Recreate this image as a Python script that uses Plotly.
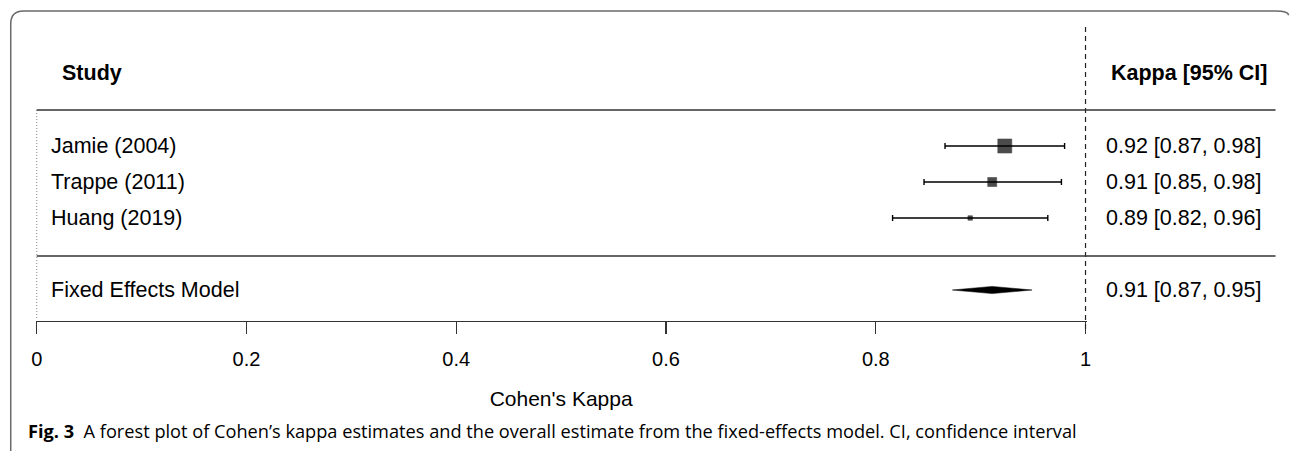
import plotly.graph_objects as go

# ---------------- data ----------------
studies = ["Jamie (2004)", "Trappe (2011)", "Huang (2019)"]
kappa = [0.923, 0.911, 0.890]
ci_low = [0.866, 0.846, 0.816]
ci_high = [0.980, 0.977, 0.964]

model_label = "Fixed Effects Model"
model_kappa = 0.911
model_low = 0.873
model_high = 0.949

x_ticks = [0, 0.2, 0.4, 0.6, 0.8, 1]
x_tick_text = ["0", "0.2", "0.4", "0.6", "0.8", "1"]

# ---------------- layout constants ----------------
W, H = 1290, 451
PX0, PX1 = 36, 1085            # target pixel positions of kappa 0 and 1
ROW0_PX, ROW_PX = 146, 36      # pixel y of first row, row spacing
PAD = 0.001                    # tiny range padding so edge lines are not clipped
box_sizes = [14, 9, 4.5]
FONT = "Liberation Sans, Arial, sans-serif"
FS = 21.5
# horizontal calibration of the capture (observed offset / scale)
CAL_OFF, CAL_S = 4.27, 0.9924


def cx(px):
    """target pixel x -> layout pixel x"""
    return (px - CAL_OFF) / CAL_S


def px_to_paper_x(px):
    return cx(px) / W


def px_to_paper_y(py):
    return 1 - py / H


def px_to_row(py):
    return (py - ROW0_PX) / ROW_PX


L0, L1 = cx(PX0), cx(PX1)
upp = (L1 - L0)
dom0 = (L0 - PAD * upp) / W
dom1 = (L1 + PAD * upp) / W

rows = list(range(len(studies)))
model_row = len(studies) + 1

fig = go.Figure()

# study estimates with CIs
fig.add_trace(go.Scatter(
    x=kappa, y=rows, mode="markers",
    marker=dict(symbol="square", size=box_sizes, color="black",
                line=dict(width=0.6, color="black")),
    error_x=dict(type="data", symmetric=False,
                 array=[h - k for h, k in zip(ci_high, kappa)],
                 arrayminus=[k - l for k, l in zip(kappa, ci_low)],
                 color="black", thickness=1.4, width=3),
    showlegend=False, hoverinfo="skip", cliponaxis=False,
))

# summary diamond
dh = 3.6 / ROW_PX
fig.add_trace(go.Scatter(
    x=[model_low, model_kappa, model_high, model_kappa, model_low],
    y=[model_row, model_row - dh, model_row, model_row + dh, model_row],
    mode="lines", fill="toself", fillcolor="black",
    line=dict(color="black", width=0.5),
    showlegend=False, hoverinfo="skip",
))

shapes = []
# reference dashed line at kappa = 1
shapes.append(dict(type="line", xref="x", yref="y", x0=1, x1=1,
                   y0=px_to_row(27), y1=px_to_row(333),
                   line=dict(color="#222", width=1.3, dash="5px,4px")))
# dotted line at kappa = 0
shapes.append(dict(type="line", xref="x", yref="y", x0=0, x1=0,
                   y0=px_to_row(110), y1=px_to_row(319),
                   line=dict(color="#888", width=1, dash="1px,2px")))
# horizontal separators
for r in (-1, len(studies)):
    yy = px_to_paper_y(ROW0_PX + r * ROW_PX + (2 if r > 0 else 0))
    shapes.append(dict(type="line", xref="paper", yref="paper",
                       x0=px_to_paper_x(PX0), x1=px_to_paper_x(1275),
                       y0=yy, y1=yy,
                       line=dict(color="#333", width=1.3)))
# rounded frame
x0p, x1p = px_to_paper_x(10), px_to_paper_x(1288)
yt = px_to_paper_y(11)
yb = px_to_paper_y(452)
rx, ry = 13 / W, 13 / H
frame = (f"M {x0p} {yb} L {x0p} {yt - ry} Q {x0p} {yt} {x0p + rx} {yt} "
         f"L {x1p - rx} {yt} Q {x1p} {yt} {x1p} {yt - ry / 3}")
shapes.append(dict(type="path", xref="paper", yref="paper", path=frame,
                   line=dict(color="#6a6a6a", width=1.5)))

annotations = []
# headers
annotations.append(dict(text="<b>Study</b>", xref="paper", yref="y",
                        x=px_to_paper_x(59), y=px_to_row(73), xanchor="left", yanchor="middle",
                        showarrow=False, font=dict(family=FONT, size=FS, color="black")))
annotations.append(dict(text="<b>Kappa [95% CI]</b>", xref="paper", yref="y",
                        x=px_to_paper_x(1269), y=px_to_row(73), xanchor="right", yanchor="middle",
                        showarrow=False, font=dict(family=FONT, size=FS, color="black")))
# rows
labels = studies + [model_label]
ks = kappa + [model_kappa]
ls = ci_low + [model_low]
hs = ci_high + [model_high]
ys = rows + [model_row]
for lab, k, lo, hi, y in zip(labels, ks, ls, hs, ys):
    annotations.append(dict(text=lab, xref="paper", yref="y",
                            x=px_to_paper_x(48), y=y, xanchor="left", yanchor="middle",
                            showarrow=False, font=dict(family=FONT, size=FS, color="black")))
    annotations.append(dict(text=f"{k:.2f} [{lo:.2f}, {hi:.2f}]", xref="paper", yref="y",
                            x=px_to_paper_x(1262), y=y, xanchor="right", yanchor="middle",
                            showarrow=False, font=dict(family=FONT, size=FS, color="black")))
# caption
annotations.append(dict(
    text="<b>Fig. 3</b>  A forest plot of Cohen’s kappa estimates and the overall estimate from the fixed-effects model. CI, confidence interval",
    xref="paper", yref="paper", x=px_to_paper_x(25), y=px_to_paper_y(431),
    xanchor="left", yanchor="middle", showarrow=False,
    font=dict(family="Open Sans, Liberation Sans, sans-serif", size=18.2, color="black")))

fig.update_layout(
    width=W, height=H, autosize=False,
    margin=dict(l=0, r=0, t=0, b=0),
    paper_bgcolor="white", plot_bgcolor="white",
    shapes=shapes, annotations=annotations,
    xaxis=dict(domain=[dom0, dom1], range=[-PAD, 1 + PAD],
               anchor="free", position=px_to_paper_y(321),
               showline=True, linecolor="#333", linewidth=1.3,
               ticks="outside", ticklen=12, tickwidth=1.3, tickcolor="#333",
               tickvals=x_ticks, ticktext=x_tick_text,
               tickfont=dict(family=FONT, size=20, color="black"),
               ticklabelstandoff=8,
               showgrid=False, zeroline=False,
               title=dict(text="Cohen's Kappa", standoff=22,
                          font=dict(family=FONT, size=21, color="black"))),
    yaxis=dict(domain=[0, 1], range=[px_to_row(H), px_to_row(0)],
               visible=False, showgrid=False, zeroline=False),
)

fig.write_html(
    "out.html",
    config={"responsive": False, "displayModeBar": False, "staticPlot": True},
    post_script="document.body.style.margin='0';document.body.style.overflow='hidden';",
)
